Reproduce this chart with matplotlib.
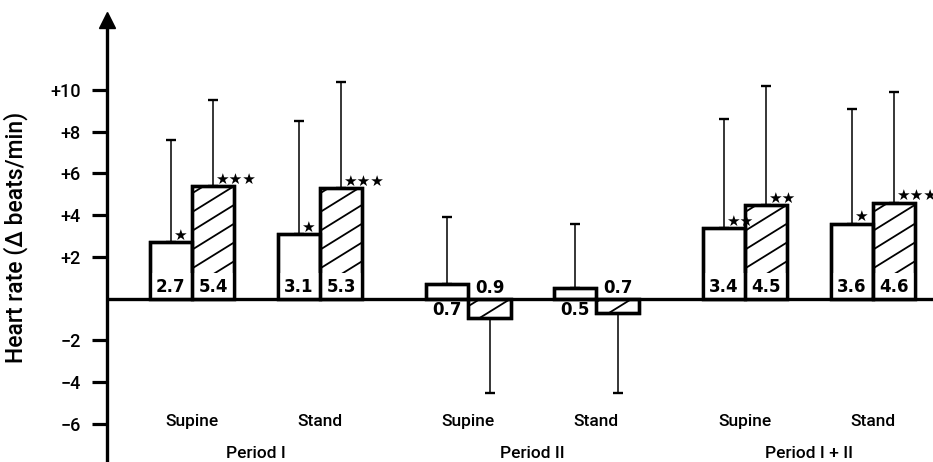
import numpy as np
import matplotlib.pyplot as plt

plt.rcParams['font.family'] = ['Roboto', 'Liberation Sans', 'DejaVu Sans']
plt.rcParams['font.weight'] = 'medium'

# values (change in heart rate, beats/min)
periods = ['Period I', 'Period II', 'Period I + II']
postures = ['Supine', 'Stand']
open_vals = [2.7, 3.1, 0.7, 0.5, 3.4, 3.6]
hatch_vals = [5.4, 5.3, -0.9, -0.7, 4.5, 4.6]
open_sd = [4.9, 5.4, 3.2, 3.1, 5.2, 5.5]
hatch_sd = [4.1, 5.1, 3.6, 3.8, 5.7, 5.3]
open_stars = ['★', '★', '', '', '★★', '★']
hatch_stars = ['★★★', '★★★', '', '', '★★', '★★★']
yticks = [-6, -4, -2, 2, 4, 6, 8, 10]

# layout
fig = plt.figure(figsize=(9.33, 4.62), dpi=100)
ax = fig.add_axes([0, 0, 1, 1])
xmax = 5.79
ax.set_xlim(-1.5, xmax)
ax.set_ylim(-7.82, 14.31)
x_axis = -0.664

centers = np.array([p * 2.16 + k for p in range(len(periods)) for k in range(len(postures))])
w = 0.33
xo = centers - w / 2
xh = centers + w / 2

bars_o = ax.bar(xo, open_vals, w, color='white', edgecolor='black', lw=2.4, zorder=3)
bars_h = ax.bar(xh, hatch_vals, w, color='white', edgecolor='black', lw=2.4, zorder=3)
# outlines again on top of hatching and label boxes
ax.bar(xo, open_vals, w, fill=False, edgecolor='black', lw=2.4, zorder=8)
ax.bar(xh, hatch_vals, w, fill=False, edgecolor='black', lw=2.4, zorder=8)

# sparse diagonal hatching, clipped to each hatched bar
slope = 3.8
step = 0.9
for b in bars_h:
    x0, y0 = b.get_x(), b.get_y()
    bw, bh = b.get_width(), b.get_height()
    ylo, yhi = min(y0, y0 + bh), max(y0, y0 + bh)
    for ys in np.arange(ylo - slope * bw, yhi, step):
        ln, = ax.plot([x0, x0 + bw], [ys, ys + slope * bw], color='black', lw=1.3, zorder=3.5)
        ln.set_clip_path(b)

# one-sided error bars
for xs, vals, sd in [(xo, open_vals, open_sd), (xh, hatch_vals, hatch_sd)]:
    vals = np.array(vals)
    sd = np.array(sd)
    lo = np.where(vals < 0, sd, 0)
    up = np.where(vals > 0, sd, 0)
    ax.errorbar(xs, vals, yerr=[lo, up], fmt='none', ecolor='black',
                elinewidth=1.1, capsize=3.8, capthick=1.7, zorder=2)

# value labels and significance stars
lab_box = dict(boxstyle='square,pad=0.3', fc='white', ec='none')
for xs, vals, stars in [(xo, open_vals, open_stars), (xh, hatch_vals, hatch_stars)]:
    for x, v, s in zip(xs, vals, stars):
        if abs(v) > 1.5:
            ax.annotate(f'{abs(v):.1f}', (x, 0), xytext=(0, 2), textcoords='offset points',
                        ha='center', va='bottom', fontsize=12, fontweight='bold',
                        family='DejaVu Sans', bbox=lab_box, zorder=6)
        elif v < 0:
            ax.annotate(f'{abs(v):.1f}', (x, 0), xytext=(0, 1.5), textcoords='offset points',
                        ha='center', va='bottom', fontsize=12, fontweight='bold',
                        family='DejaVu Sans', zorder=6)
        else:
            ax.annotate(f'{abs(v):.1f}', (x, 0), xytext=(0, -1.5), textcoords='offset points',
                        ha='center', va='top', fontsize=12, fontweight='bold',
                        family='DejaVu Sans', zorder=6)
        if s:
            ax.annotate(s, (x, v), xytext=(1.5, -0.5), textcoords='offset points',
                        ha='left', va='bottom', fontsize=11, family='DejaVu Sans', zorder=6)

# zero line and axis
ax.hlines(0, x_axis, xmax, colors='black', lw=2.4, zorder=9)
for side in ['top', 'right', 'bottom']:
    ax.spines[side].set_visible(False)
ax.spines['left'].set_position(('data', x_axis))
ax.spines['left'].set_linewidth(2.4)
ax.spines['left'].set_bounds(-7.82, 13.3)
ax.plot([x_axis], [13.33], marker='^', ms=12, color='black', clip_on=False, zorder=5)

ax.set_xticks([])
ax.set_yticks(yticks)
ax.set_yticklabels([f'+{t}' if t > 0 else f'\u2212{-t}' for t in yticks])
ax.tick_params(axis='y', direction='out', length=10.8, width=2.3, pad=8, labelsize=13)

# category labels
for i, c in enumerate(centers):
    ax.text(c, -5.86, postures[i % 2], ha='center', va='center', fontsize=12.5)
for p, name in enumerate(periods):
    ax.text(centers[2 * p:2 * p + 2].mean(), -7.39, name, ha='center', va='center', fontsize=12.5)

fig.text(0.017, 1 - 237 / 462, 'Heart rate (\u0394 beats/min)', rotation=90,
         ha='center', va='center', fontsize=16.5)

fig.savefig('out.png', dpi=100)
